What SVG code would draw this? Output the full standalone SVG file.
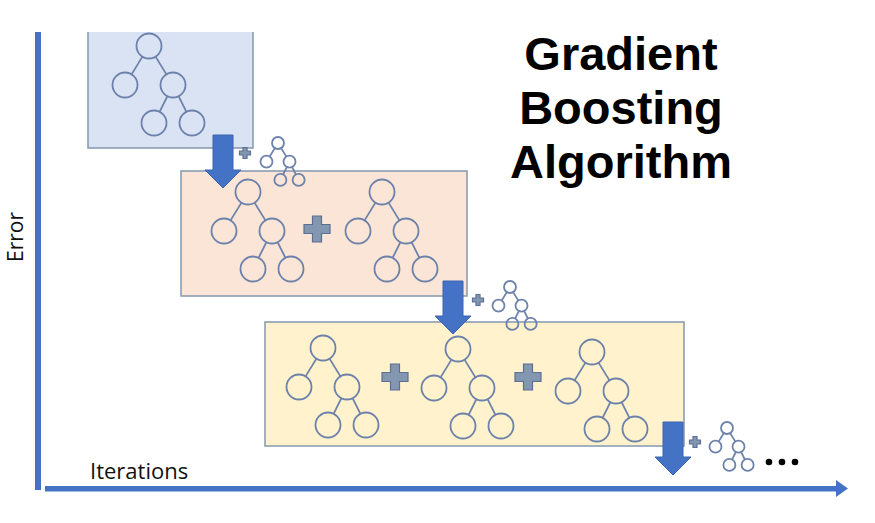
<svg xmlns="http://www.w3.org/2000/svg" xmlns:xlink="http://www.w3.org/1999/xlink" width="875" height="523" viewBox="0 0 875 523">
<style>
.tree circle{fill:none;stroke:#6d82ab;stroke-width:1.8;vector-effect:non-scaling-stroke}
.tree line{stroke:#6d82ab;stroke-width:1.8;vector-effect:non-scaling-stroke}
.plus{fill:#8497b0;stroke:#5c6f96;stroke-width:1.2}
.arrow{fill:#4472c4;stroke:#3a64b0;stroke-width:1}
.axis{fill:#4472c4}
.title{font-family:"Liberation Sans",Arial,sans-serif;font-weight:bold;font-size:47px;fill:#000;text-anchor:middle}
.lbl{font-family:"Open Sans","Liberation Sans",sans-serif;font-size:22px;fill:#111}
.box{stroke:#8497b0;stroke-width:1.5}
</style>
<defs>
<g id="tree" class="tree">
<circle cx="0" cy="0" r="12.5"/>
<circle cx="-24" cy="39" r="12.5"/>
<circle cx="24" cy="39" r="12.5"/>
<circle cx="5" cy="77" r="12.5"/>
<circle cx="43" cy="77" r="12.5"/>
<line x1="-6.55" y1="10.65" x2="-17.45" y2="28.35"/>
<line x1="6.55" y1="10.65" x2="17.45" y2="28.35"/>
<line x1="18.41" y1="50.18" x2="10.59" y2="65.82"/>
<line x1="29.59" y1="50.18" x2="37.41" y2="65.82"/>
</g>
<path id="plusBig" class="plus" d="M-4.5,-13 H4.5 V-4.5 H13 V4.5 H4.5 V13 H-4.5 V4.5 H-13 V-4.5 H-4.5 Z"/>
<path id="plusSmall" class="plus" d="M-2,-5.5 H2 V-2 H5.5 V2 H2 V5.5 H-2 V2 H-5.5 V-2 H-2 Z"/>
<path id="downArrow" class="arrow" d="M-10,0 H10 V35 H18 L0,53 L-18,35 H-10 Z"/>
</defs>

<g id="axes">
<rect class="axis" x="35" y="32" width="6" height="458"/>
<rect class="axis" x="45" y="486" width="793" height="5.5"/>
<polygon class="axis" points="836,480 848,488.5 836,497"/>
</g>

<g id="box1">
<rect x="88" y="32" width="165" height="116" fill="#dae3f3"/>
<path class="box" fill="none" d="M88,32 V148 H253 V32"/>
<use xlink:href="#tree" x="149" y="46"/>
</g>

<g id="box2">
<rect class="box" x="181" y="171" width="286" height="125" fill="#fbe5d6"/>
<use xlink:href="#tree" x="248" y="192"/>
<use xlink:href="#plusBig" x="317" y="229"/>
<use xlink:href="#tree" x="382" y="192"/>
</g>

<g id="box3">
<rect class="box" x="265" y="322" width="419" height="124" fill="#fff2cc"/>
<use xlink:href="#tree" x="323" y="348"/>
<use xlink:href="#plusBig" x="395" y="377"/>
<use xlink:href="#tree" x="458" y="349"/>
<use xlink:href="#plusBig" x="528" y="377"/>
<use xlink:href="#tree" x="592" y="352"/>
</g>

<g id="step1">
<use xlink:href="#plusSmall" x="245" y="153"/>
<use xlink:href="#tree" transform="translate(278,143) scale(0.48)"/>
</g>
<g id="step2">
<use xlink:href="#plusSmall" x="478" y="300"/>
<use xlink:href="#tree" transform="translate(510,287) scale(0.48)"/>
</g>
<g id="step3">
<use xlink:href="#plusSmall" x="695" y="442"/>
<use xlink:href="#tree" transform="translate(727,428) scale(0.48)"/>
<circle cx="769" cy="462" r="3.3" fill="#000"/>
<circle cx="782" cy="462" r="3.3" fill="#000"/>
<circle cx="795" cy="462" r="3.3" fill="#000"/>
</g>

<g id="connectors">
<use xlink:href="#downArrow" x="223" y="135"/>
<use xlink:href="#downArrow" x="453" y="281"/>
<use xlink:href="#downArrow" x="673" y="422"/>
</g>

<g id="title">
<text class="title" x="621" y="70">Gradient</text>
<text class="title" x="621" y="124">Boosting</text>
<text class="title" x="621" y="178">Algorithm</text>
</g>

<g id="labels">
<text class="lbl" x="90" y="479">Iterations</text>
<text class="lbl" style="font-size:21px" text-anchor="middle" transform="translate(23,237) rotate(-90)">Error</text>
</g>
</svg>
